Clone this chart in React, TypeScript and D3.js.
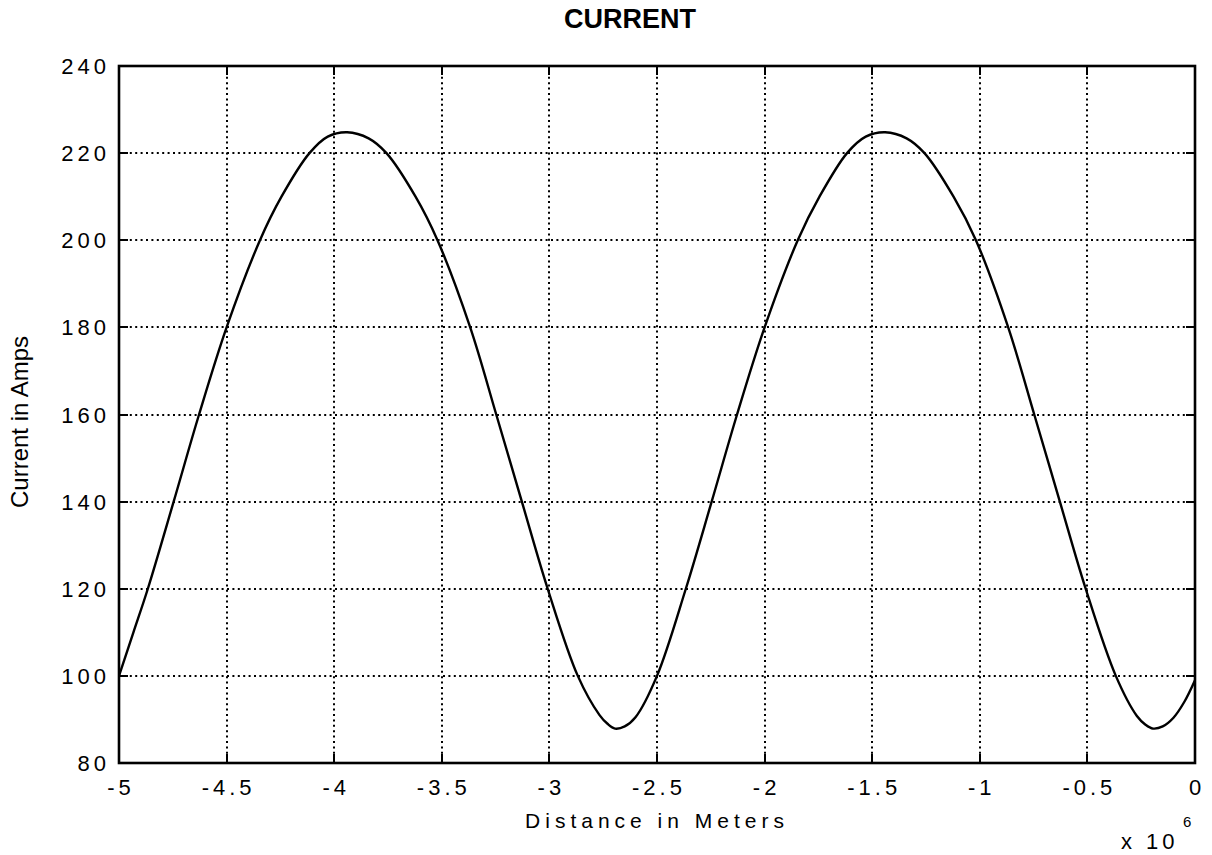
import React from "react";
import * as d3 from "d3";

// Distance in units of 1e6 meters
const distance = [
  -5, -4.933, -4.866, -4.746, -4.628, -4.5, -4.345, -4.245, -4.115, -4.03, -3.94, -3.84, -3.757,
  -3.622, -3.52, -3.368, -3.247, -3.128, -3.008, -2.868, -2.767, -2.73, -2.695, -2.65,
  -2.6, -2.5, -2.366, -2.246, -2.128, -2.0, -1.846, -1.745, -1.617, -1.53, -1.44, -1.34, -1.257,
  -1.122, -1.018, -0.868, -0.747, -0.628, -0.508, -0.368, -0.27, -0.23, -0.195, -0.15,
  -0.1, -0.05, 0,
];
const current = [
  100, 110, 120, 140, 160, 180, 200, 210, 220, 223.8, 224.8, 223.4, 220,
  210, 200, 180, 160, 140, 120, 100, 91, 89, 87.9, 88.4,
  90.5, 100, 120, 140, 160, 180, 200, 210, 220, 223.8, 224.8, 223.4, 220,
  210, 200, 180, 160, 140, 120, 100, 90.8, 88.8, 87.9, 88.4,
  90.4, 94, 99,
];

const xTicks = [-5, -4.5, -4, -3.5, -3, -2.5, -2, -1.5, -1, -0.5, 0];
const xTickLabels = ["-5", "-4.5", "-4", "-3.5", "-3", "-2.5", "-2", "-1.5", "-1", "-0.5", "0"];
const yTicks = [80, 100, 120, 140, 160, 180, 200, 220, 240];
const yTickLabels = ["80", "100", "120", "140", "160", "180", "200", "220", "240"];

const titleText = "CURRENT";
const xLabel = "Distance in Meters";
const yLabel = "Current in Amps";

export default function App() {
  const W = 1212;
  const H = 855;
  const left = 119;
  const right = 1195;
  const top = 66;
  const bottom = 763;

  const x = d3.scaleLinear().domain([-5, 0]).range([left, right]);
  const y = d3.scaleLinear().domain([80, 240]).range([bottom, top]);
  const rx = (v: number) => Math.round(x(v));
  const ry = (v: number) => Math.round(y(v));

  const pts: [number, number][] = distance.map((d, i) => [d, current[i]]);
  const line = d3
    .line<[number, number]>()
    .x((d) => x(d[0]))
    .y((d) => y(d[1]))
    .curve(d3.curveCatmullRom.alpha(0.5));

  const font = "'Liberation Sans', Arial, Helvetica, sans-serif";
  const tickLen = 9;

  return (
    <svg
      width={W}
      height={H}
      style={{ position: "absolute", left: 0, top: 0, background: "#fff" }}
      fontFamily={font}
    >
      <rect x={0} y={0} width={W} height={H} fill="#fff" />
      {/* grid */}
      <g stroke="#000" strokeWidth={2} strokeDasharray="2,3.4" fill="none">
        {xTicks.slice(1, -1).map((t) => (
          <line key={"gx" + t} x1={rx(t)} x2={rx(t)} y1={top} y2={bottom} />
        ))}
        {yTicks.slice(1, -1).map((t) => (
          <line key={"gy" + t} x1={left} x2={right} y1={ry(t)} y2={ry(t)} />
        ))}
      </g>
      {/* ticks */}
      <g stroke="#000" strokeWidth={2}>
        {xTicks.map((t) => (
          <g key={"tx" + t}>
            <line x1={rx(t)} x2={rx(t)} y1={bottom} y2={bottom - tickLen} />
            <line x1={rx(t)} x2={rx(t)} y1={top} y2={top + tickLen} />
          </g>
        ))}
        {yTicks.map((t) => (
          <g key={"ty" + t}>
            <line x1={left} x2={left + tickLen} y1={ry(t)} y2={ry(t)} />
            <line x1={right} x2={right - tickLen} y1={ry(t)} y2={ry(t)} />
          </g>
        ))}
      </g>
      {/* curve */}
      <path d={line(pts) || ""} fill="none" stroke="#000" strokeWidth={2.4} strokeLinejoin="round" />
      {/* frame */}
      <rect
        x={left}
        y={top}
        width={right - left}
        height={bottom - top}
        fill="none"
        stroke="#000"
        strokeWidth={2.6}
      />
      {/* tick labels */}
      <g fontSize={22} letterSpacing={4} fill="#000">
        {xTicks.map((t, i) => (
          <text key={"lx" + t} x={x(t) + 2} y={795} textAnchor="middle">
            {xTickLabels[i]}
          </text>
        ))}
        {yTicks.map((t, i) => (
          <text key={"ly" + t} x={110} y={y(t) + 8} textAnchor="end">
            {yTickLabels[i]}
          </text>
        ))}
      </g>
      {/* exponent */}
      <text x={1121} y={849} fontSize={22} letterSpacing={4} fill="#000">
        x 10
      </text>
      <text x={1183} y={827} fontSize={15} fill="#000">
        6
      </text>
      {/* axis labels */}
      <text x={657} y={828} fontSize={21} letterSpacing={5} textAnchor="middle" fill="#000">
        {xLabel}
      </text>
      <text
        transform={`translate(28, 422) rotate(-90)`}
        fontSize={24}
        textAnchor="middle"
        fill="#000"
      >
        {yLabel}
      </text>
      {/* title */}
      <text x={630} y={28} fontSize={27} fontWeight="bold" textAnchor="middle" fill="#000">
        {titleText}
      </text>
    </svg>
  );
}
